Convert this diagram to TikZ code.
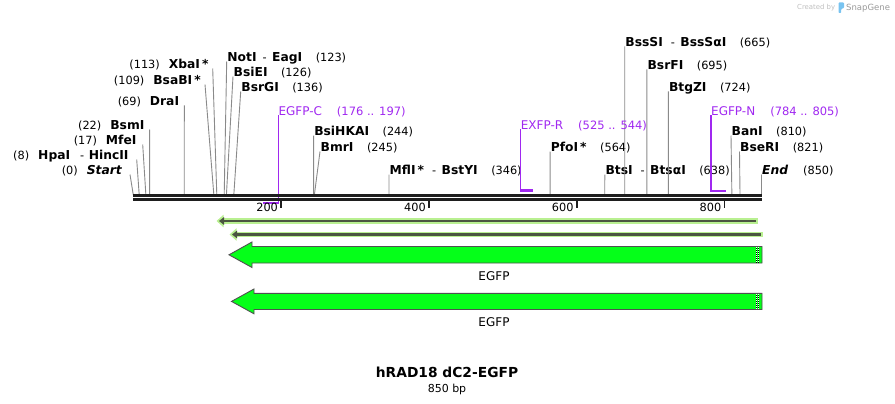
\documentclass[tikz,border=0pt]{standalone}
\usepackage{fontspec}
\setmainfont{DejaVu Sans}[ItalicFont={DejaVu Sans Oblique},BoldFont={DejaVu Sans Bold},BoldItalicFont={DejaVu Sans Bold Oblique}]
\usetikzlibrary{arrows.meta, positioning, calc}

\definecolor{cutgray}{RGB}{138,138,138}
\definecolor{mapblack}{RGB}{30,30,30}
\definecolor{primerviolet}{RGB}{160,40,240}
\definecolor{featgreen}{RGB}{5,255,25}
\definecolor{featedge}{RGB}{80,80,80}
\definecolor{orfdark}{RGB}{75,85,65}
\definecolor{orfglow}{RGB}{185,240,145}
\definecolor{logoblue}{RGB}{120,195,240}

\newcommand{\enz}[1]{{\fontsize{12.3}{14}\selectfont\bfseries #1}}
\newcommand{\enzit}[1]{{\fontsize{12.3}{14}\selectfont\bfseries\itshape #1}}
\newcommand{\numgap}{\hspace{13.5pt}}
\newcommand{\dashgap}{\hspace{8pt}-\hspace{5.5pt}}

\begin{document}
\begin{tikzpicture}[x=1pt, y=-1pt,
    font=\fontsize{11.3}{13}\selectfont,
    cutline/.style={draw=cutgray, line width=0.9pt},
    leftlab/.style={anchor=base east, inner xsep=4pt, inner ysep=0pt},
    rightlab/.style={anchor=base west, inner xsep=0.5pt, inner ysep=0pt},
    primerlab/.style={anchor=base west, inner sep=0pt, text=primerviolet, font=\fontsize{12}{14}\selectfont},
    primer/.style={draw=primerviolet, line width=1.3pt},
    primerfoot/.style={draw=primerviolet, line width=2.3pt},
    backbone/.style={draw=mapblack, line width=2.8pt},
    ruler/.style={draw=mapblack, line width=1.6pt},
    feature/.style={fill=featgreen, draw=featedge, line width=0.9pt},
    orfhalo/.style={draw=orfglow, line width=5.5pt, -{Triangle[length=7pt,width=12pt]}},
    orfline/.style={draw=orfdark, line width=2.2pt, -{Triangle[length=5pt,width=7.5pt]}}
]
\useasboundingbox (0,0) rectangle (895,404);

% cut positions on the sequence
\foreach \p in {0,8,17,22,69,109,113,123,126,136,244,245,346,564,638,665,695,724,810,821,850}
  \coordinate (c\p) at ({133.3+0.739*\p},195);

% Sites left of the cut
\node[leftlab, inner xsep=8pt] (l0) at (130,174.5) {(0)\hspace{9pt}\enzit{Start}};
\node[leftlab, inner xsep=8pt] (l8) at (136.7,159.5) {(8)\hspace{9pt}\enz{HpaI}\hspace{10pt}-\hspace{4.5pt}\enz{HincII}};
\node[leftlab, inner xsep=6pt] (l17) at (142.7,144.5) {(17)\hspace{9pt}\enz{MfeI}};
\node[leftlab, inner xsep=5pt] (l22) at (149.6,129.5) {(22)\hspace{9pt}\enz{BsmI}};
\node[leftlab, inner xsep=5pt] (l69) at (184.3,105.5) {(69)\hspace{9pt}\enz{DraI}};
\node[leftlab] (l109) at (205,84.5) {(109)\hspace{9pt}\enz{BsaBI\,*}};
\node[leftlab] (l113) at (212.7,68.5) {(113)\hspace{9pt}\enz{XbaI\,*}};

% Sites right of the cut
\node[rightlab] (r123) at (226.7,61.5) {\enz{NotI}\hspace{6pt}-\hspace{5.5pt}\enz{EagI}\numgap(123)};
\node[rightlab] (r126) at (233,76.5) {\enz{BsiEI}\numgap(126)};
\node[rightlab] (r136) at (240.7,91.5) {\enz{BsrGI}\numgap(136)};
\node[rightlab] (r244) at (313.6,135.5) {\enz{BsiHKAI}\numgap(244)};
\node[rightlab] (r245) at (320,151.5) {\enz{BmrI}\numgap(245)};
\node[rightlab] (r346) at (389,174.5) {\enz{MflI\,*}\dashgap\enz{BstYI}\numgap(346)};
\node[rightlab] (r564) at (550.1,151.5) {\enz{PfoI\,*}\numgap(564)};
\node[rightlab] (r638) at (604.8,174.5) {\enz{BtsI}\dashgap\enz{BtsαI}\numgap(638)};
\node[rightlab] (r665) at (624.7,46.5) {\enz{BssSI}\dashgap\enz{BssSαI}\numgap(665)};
\node[rightlab] (r695) at (646.9,69.5) {\enz{BsrFI}\numgap(695)};
\node[rightlab] (r724) at (668.3,91.5) {\enz{BtgZI}\numgap(724)};
\node[rightlab] (r810) at (731,135.5) {\enz{BanI}\numgap(810)};
\node[rightlab] (r821) at (739.5,151.5) {\enz{BseRI}\numgap(821)};
\node[rightlab] (r850) at (761.5,174.5) {\enzit{End}\hspace{15pt}(850)};

\foreach \p in {0,8,17,22,69,109,113}
  \draw[cutline] (c\p) -- (l\p.base east);
\foreach \p in {123,126,136,244,245,346,564,638,665,695,724,810,821,850}
  \draw[cutline] (c\p) -- (r\p.base west);

% Primers
\node[primerlab] (pC) at (278.3,115) {EGFP-C\hspace{15pt}{\fontsize{11.5}{13}\selectfont(176 .. 197)}};
\node[primerlab] (pR) at (520.7,129.3) {EXFP-R\hspace{15pt}{\fontsize{11.5}{13}\selectfont(525 .. 544)}};
\node[primerlab] (pN) at (711,115) {EGFP-N\hspace{15pt}{\fontsize{11.5}{13}\selectfont(784 .. 805)}};
\coordinate (pCfoot) at (278.3,203.3);
\coordinate (pRfoot) at (520.7,190.5);
\coordinate (pNfoot) at (711,190.7);
\draw[primer] (pC.base west) -- (pCfoot);
\draw[primerfoot] ([xshift=0.6pt]pCfoot) -- ++(-15.6,0);
\draw[primer] (pR.base west) -- (pRfoot);
\draw[primerfoot] ([xshift=-0.6pt]pRfoot) -- ++(13.2,0);
\draw[primer] (pN.base west) -- (pNfoot);
\draw[primerfoot] ([xshift=-0.6pt]pNfoot) -- ++(15.6,0);

% Backbone
\coordinate (bbL1) at (133.3,195.3);
\coordinate (bbR1) at (761.5,195.3);
\coordinate (bbL2) at (133.3,199.7);
\coordinate (bbR2) at (761.5,199.7);
\draw[backbone] (bbL1) -- (bbR1);
\draw[backbone] (bbL2) -- (bbR2);

% Ruler
\foreach \t in {200,400,600,800} {
  \pgfmathsetmacro\tx{133.3+0.739*\t}
  \draw[ruler] (\tx,200.5) -- (\tx,207.5);
  \node[anchor=base east, inner sep=0pt] (t\t) at (\tx-3,211.5) {\t};
}

% ORFs
\coordinate (o1R) at (757.5,221);
\coordinate (o1L) at (216.5,221);
\draw[orfhalo] (o1R) -- (o1L);
\draw[orfline, shorten <=2pt, shorten >=2.5pt] (o1R) -- (o1L);
\coordinate (o2R) at (762.5,234.5);
\coordinate (o2L) at (229.5,234.5);
\draw[orfhalo] (o2R) -- (o2L);
\draw[orfline, shorten <=2pt, shorten >=2.5pt] (o2R) -- (o2L);

% Features
\filldraw[feature] (762,246.5) -- (252,246.5) -- (252,242) -- (229,254.8) -- (252,267.5) -- (252,263) -- (762,263) -- cycle;
\draw[black, line width=0.8pt] (756.3,247) -- (756.3,262.5) (758.3,247) -- (758.3,262.5);
\draw[white, line width=0.8pt, dash pattern=on 1pt off 1pt] (756.3,247) -- (756.3,262.5) (758.3,247) -- (758.3,262.5);
\node[font=\fontsize{12}{14}\selectfont] (egfpA) at (494,275.7) {EGFP};

\filldraw[feature] (762,293.3) -- (254,293.3) -- (254,289) -- (231.5,301.4) -- (254,313.8) -- (254,309.5) -- (762,309.5) -- cycle;
\draw[black, line width=0.8pt] (756.3,293.8) -- (756.3,309) (758.3,293.8) -- (758.3,309);
\draw[white, line width=0.8pt, dash pattern=on 1pt off 1pt] (756.3,293.8) -- (756.3,309) (758.3,293.8) -- (758.3,309);
\node[font=\fontsize{12}{14}\selectfont] (egfpB) at (494,322.3) {EGFP};

% Title
\node[anchor=base, font=\fontsize{13.8}{16}\selectfont\bfseries] (title) at (447,377) {hRAD18 dC2-EGFP};
\node[anchor=base, font=\fontsize{11}{13}\selectfont] (bplen) at (447,392) {850 bp};

% Logo
\node[anchor=base west, inner sep=0pt, text=black!25, font=\fontsize{6.9}{8}\selectfont] (made) at (797,10) {Created by};
\fill[logoblue, rounded corners=0.8pt] (838.5,2.5) -- (844,2.5) -- (844,8) -- (841.2,9) -- (841.2,13) -- (838.5,13) -- cycle;
\node[anchor=base west, inner sep=0pt, text=black!40, font=\fontsize{8.5}{10}\selectfont] (snap) at (846,11) {SnapGene};

\end{tikzpicture}
\end{document}
